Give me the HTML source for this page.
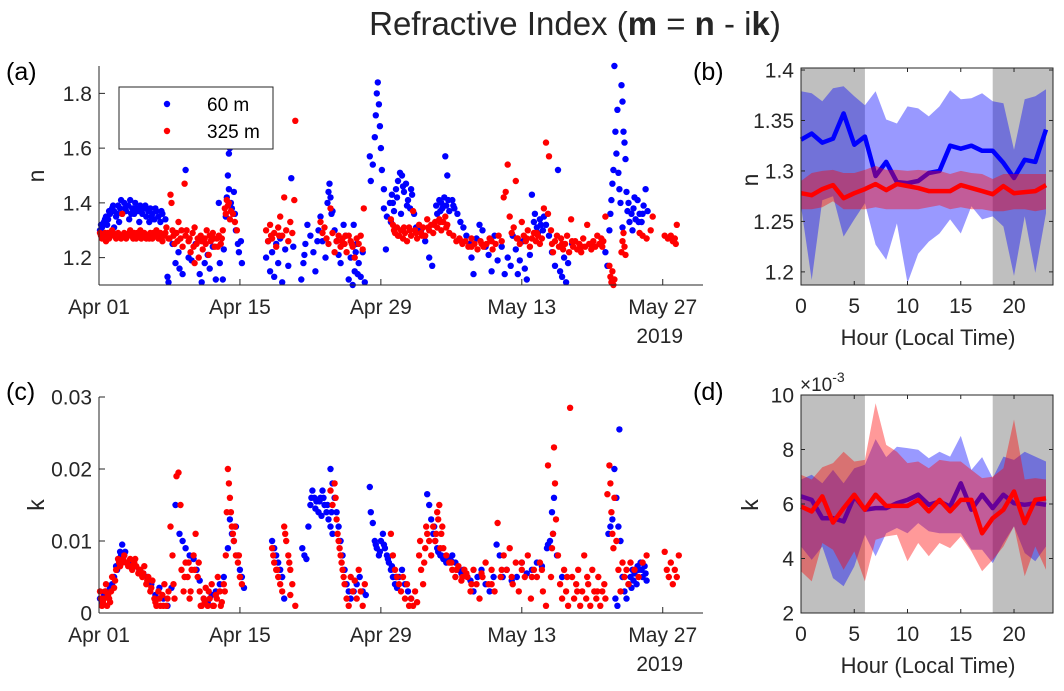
<!DOCTYPE html>
<html><head><meta charset="utf-8"><style>
body{margin:0;background:#fff;}
svg{display:block;font-family:"Liberation Sans",sans-serif;}
</style></head><body>
<svg id="fig" width="1064" height="691" viewBox="0 0 1064 691" xmlns="http://www.w3.org/2000/svg">
<text x="575" y="35" font-size="33" text-anchor="middle" fill="#262626">Refractive Index (<tspan font-weight="bold">m</tspan> = <tspan font-weight="bold">n</tspan> - i<tspan font-weight="bold">k</tspan>)</text>
<text x="6" y="80" font-size="25" fill="#000">(a)</text>
<text x="693" y="80" font-size="25" fill="#000">(b)</text>
<text x="6" y="400" font-size="25" fill="#000">(c)</text>
<text x="693" y="400" font-size="25" fill="#000">(d)</text>
</svg>
<script>
// ---------- Panel (a) data: n, 60 m ----------
const a60Day=[0.1,0.3,0.5,0.7,0.9,1.1,1.3,1.5,1.7,1.9,2.1,2.3,2.5,2.7,2.9,3.1,3.3,3.5,3.7,3.9,4.1,4.3,4.5,4.7,4.9,5.1,5.3,5.5,5.7,5.9,6.1,6.3,6.6,0.8,2.0,3.0,4.0,5.0,1.5,
6.8,6.9,7.3,7.6,7.9,8.0,8.3,8.6,8.9,9.2,9.6,10.0,10.2,10.5,10.8,11.0,11.3,11.6,11.9,12.0,12.3,
12.6,12.7,12.8,12.9,13.0,12.9,13.1,13.2,13.4,13.5,13.6,13.8,13.9,14.1,14.2,12.4,
16.6,16.8,17.0,17.2,17.4,17.6,17.8,18.0,18.2,18.5,18.8,19.1,19.3,
20.1,20.3,20.5,20.7,21.0,21.3,21.5,21.8,22.0,22.2,22.5,22.7,22.9,23.0,23.2,23.4,23.6,23.8,24.0,24.3,24.5,
24.8,25.0,25.2,25.4,25.6,25.8,26.0,26.2,26.4,25.3,
26.9,27.0,27.2,27.4,27.5,27.6,27.7,27.8,27.9,28.0,28.1,28.3,
28.3,28.6,28.9,29.1,29.3,29.5,29.7,29.9,30.1,30.3,30.5,30.7,30.9,31.1,31.3,29.0,30.0,28.5,31.5,
32.0,32.4,32.8,33.1,33.5,33.8,34.0,34.3,34.5,34.8,35.1,35.3,35.6,35.9,34.4,34.6,33.9,
36.2,36.5,36.8,37.0,37.2,37.5,37.8,38.1,38.4,38.7,39.0,39.3,39.6,40.0,40.3,40.6,40.9,41.1,
41.4,41.6,41.8,42.1,42.3,42.5,42.8,43.0,43.2,43.5,43.8,44.1,44.4,44.7,
45.0,45.3,45.6,45.8,46.0,46.2,46.4,46.6,47.0,
50.3,50.5,50.7,50.8,50.9,51.0,51.1,51.2,51.3,51.4,51.5,51.6,51.7,51.8,51.9,52.0,52.1,52.2,52.3,52.4,52.5,52.7,52.9,53.1,53.3,53.5,53.7,53.9,54.1,54.3,54.5,52.0,53.0,
0.2,0.6,1.0,1.4,1.8,2.2,2.6,3.2,3.6,4.2,4.6,5.2,5.6,6.2,29.2,29.6,30.2,30.6,31.0,33.6,34.1,34.7,35.2,43.3,43.6,43.9,44.2,52.6,53.2,53.6,54.0,22.8,23.1,25.5,25.7,20.4,21.7];
const a60N=[1.30,1.31,1.33,1.35,1.34,1.36,1.38,1.37,1.35,1.39,1.38,1.36,1.40,1.37,1.39,1.41,1.38,1.36,1.38,1.37,1.39,1.36,1.38,1.35,1.37,1.38,1.36,1.34,1.37,1.35,1.33,1.36,1.34,1.32,1.33,1.34,1.33,1.33,1.31,
1.13,1.11,1.25,1.18,1.22,1.16,1.14,1.52,1.20,1.19,1.25,1.14,1.11,1.18,1.21,1.16,1.24,1.12,1.40,1.18,1.12,
1.35,1.42,1.50,1.58,1.60,1.45,1.40,1.38,1.44,1.36,1.30,1.25,1.22,1.26,1.18,1.23,
1.20,1.26,1.15,1.22,1.13,1.25,1.18,1.27,1.11,1.23,1.17,1.49,1.24,
1.12,1.18,1.25,1.32,1.28,1.22,1.15,1.30,1.35,1.26,1.20,1.40,1.47,1.42,1.37,1.30,1.26,1.21,1.18,1.32,1.28,
1.12,1.20,1.10,1.15,1.25,1.18,1.13,1.22,1.11,1.32,
1.57,1.48,1.54,1.64,1.72,1.80,1.84,1.76,1.68,1.60,1.52,1.45,
1.38,1.35,1.40,1.43,1.37,1.45,1.48,1.51,1.50,1.44,1.47,1.41,1.38,1.43,1.36,1.33,1.36,1.23,1.31,
1.30,1.26,1.20,1.17,1.39,1.41,1.40,1.42,1.39,1.37,1.41,1.38,1.36,1.33,1.57,1.50,1.37,
1.31,1.28,1.25,1.20,1.14,1.27,1.32,1.30,1.24,1.21,1.15,1.28,1.19,1.24,1.14,1.20,1.17,1.28,
1.23,1.14,1.19,1.26,1.16,1.12,1.21,1.43,1.33,1.31,1.34,1.30,1.32,1.28,
1.22,1.17,1.52,1.15,1.13,1.20,1.11,1.18,1.25,
1.22,1.17,1.30,1.36,1.41,1.47,1.52,1.90,1.66,1.58,1.74,1.51,1.45,1.40,1.83,1.77,1.66,1.62,1.56,1.44,1.37,1.33,1.36,1.38,1.34,1.41,1.36,1.33,1.39,1.45,1.37,1.31,1.30,
1.32,1.34,1.37,1.39,1.36,1.41,1.38,1.36,1.40,1.37,1.39,1.35,1.38,1.37,1.40,1.42,1.46,1.39,1.45,1.36,1.38,1.41,1.39,1.36,1.29,1.32,1.35,1.40,1.42,1.33,1.36,1.44,1.36,1.22,1.14,1.21,1.26];
// ---------- Panel (a) data: n, 325 m ----------
const a325Day=[0.1,0.3,0.5,0.7,0.9,1.1,1.3,1.5,1.7,1.9,2.1,2.3,2.5,2.7,2.9,3.1,3.3,3.5,3.7,3.9,4.1,4.3,4.5,4.7,4.9,5.1,5.3,5.5,5.7,5.9,6.1,6.3,6.5,6.7,6.9,7.1,7.2,7.3,7.5,7.7,7.9,8.1,8.3,8.5,8.7,8.9,9.1,9.3,9.5,9.7,9.9,10.1,10.3,10.5,10.7,10.9,11.1,11.3,11.5,11.7,11.9,12.1,12.3,12.5,12.7,12.9,13.1,13.3,13.5,13.7,9.5,
16.6,16.8,17.0,17.2,17.4,17.6,17.8,18.0,18.2,18.4,18.6,18.8,19.0,19.2,19.5,19.4,
22.0,22.2,22.4,22.6,22.8,23.0,23.2,23.4,23.6,23.8,24.0,24.2,24.4,24.6,24.8,25.0,25.2,25.4,25.6,25.8,26.0,26.2,26.3,
29.0,29.2,29.4,29.6,29.8,30.0,30.2,30.4,30.6,30.8,31.0,31.2,31.4,31.6,31.8,32.0,32.2,32.4,32.6,32.8,33.0,33.2,33.4,33.6,33.8,34.0,34.2,34.4,34.6,34.8,
35.2,35.5,35.8,36.1,36.4,36.7,37.0,37.3,37.6,37.9,38.2,38.5,38.8,39.1,39.4,39.7,40.0,40.2,40.4,40.6,40.8,41.0,41.2,41.4,41.6,41.8,42.0,42.2,42.4,42.6,42.8,43.0,43.2,43.4,43.6,43.8,44.0,44.2,44.4,44.6,44.7,44.9,45.1,45.3,45.5,45.7,45.9,46.1,46.3,46.5,46.7,46.9,47.1,47.3,47.5,47.7,47.9,48.1,48.3,48.5,48.7,48.9,49.1,49.3,49.5,49.7,49.9,50.1,50.3,
50.7,50.8,50.9,51.0,51.1,51.2,51.9,52.0,52.1,52.2,52.3,53.7,54.0,54.4,54.8,55.0,56.2,56.5,56.8,57.0,57.2,57.4,57.3,
0.2,0.6,1.0,1.4,1.8,2.2,2.6,3.0,3.4,3.8,4.2,4.6,5.0,5.4,5.8,6.2,6.6,7.0,7.4,7.8,8.2,8.6,9.0,9.4,9.8,10.2,10.6,11.0,11.4,11.8,12.2,12.6,12.8,13.0,29.3,29.7,30.3,30.9,31.5,32.1,32.7,33.3,33.9,34.5,36.0,37.0,38.0,39.0,41.5,42.5,43.5,45.0,46.0,47.0,48.0,49.0,50.0,24.1,24.5,25.1,17.1,17.9];
const a325N=[1.29,1.27,1.28,1.26,1.29,1.28,1.30,1.28,1.27,1.29,1.28,1.36,1.29,1.27,1.28,1.30,1.28,1.29,1.27,1.28,1.30,1.28,1.29,1.27,1.28,1.29,1.27,1.28,1.30,1.27,1.29,1.26,1.28,1.31,1.27,1.43,1.40,1.30,1.25,1.29,1.33,1.27,1.24,1.47,1.30,1.26,1.22,1.29,1.31,1.25,1.20,1.28,1.23,1.27,1.30,1.21,1.26,1.29,1.24,1.27,1.28,1.25,1.30,1.38,1.41,1.40,1.37,1.36,1.33,1.30,1.18,
1.30,1.26,1.32,1.27,1.29,1.24,1.31,1.35,1.28,1.42,1.30,1.26,1.33,1.29,1.70,1.41,
1.33,1.29,1.31,1.27,1.25,1.38,1.29,1.22,1.26,1.28,1.24,1.27,1.25,1.22,1.28,1.26,1.24,1.20,1.27,1.25,1.28,1.23,1.38,
1.34,1.32,1.29,1.31,1.28,1.30,1.27,1.29,1.26,1.31,1.28,1.37,1.30,1.27,1.32,1.29,1.31,1.28,1.34,1.30,1.32,1.29,1.33,1.31,1.34,1.30,1.33,1.35,1.32,1.29,
1.28,1.26,1.27,1.25,1.26,1.24,1.27,1.25,1.23,1.26,1.24,1.25,1.27,1.23,1.25,1.28,1.26,1.42,1.44,1.54,1.35,1.29,1.31,1.48,1.27,1.25,1.33,1.28,1.26,1.30,1.24,1.27,1.29,1.26,1.28,1.25,1.27,1.38,1.62,1.36,1.57,1.30,1.22,1.26,1.28,1.24,1.27,1.23,1.25,1.28,1.22,1.34,1.24,1.26,1.23,1.25,1.22,1.27,1.24,1.32,1.25,1.23,1.26,1.24,1.28,1.25,1.27,1.26,1.35,
1.17,1.13,1.11,1.15,1.10,1.12,1.22,1.26,1.29,1.24,1.21,1.29,1.28,1.27,1.30,1.35,1.28,1.27,1.28,1.26,1.27,1.32,1.25,
1.28,1.29,1.27,1.29,1.28,1.27,1.28,1.29,1.27,1.29,1.27,1.28,1.27,1.29,1.28,1.28,1.29,1.27,1.28,1.26,1.30,1.28,1.27,1.24,1.27,1.26,1.25,1.28,1.27,1.24,1.27,1.36,1.39,1.34,1.30,1.28,1.31,1.30,1.29,1.28,1.31,1.32,1.33,1.31,1.26,1.24,1.25,1.26,1.27,1.27,1.29,1.25,1.25,1.26,1.24,1.25,1.24,1.26,1.28,1.25,1.28,1.28];
// ---------- Panel (c) data: k (x1e-3), 60 m ----------
const c60Day=[0.1,0.3,0.5,0.7,0.9,1.1,1.3,1.5,1.7,1.9,2.1,2.3,2.5,2.7,3.0,3.3,3.6,4.0,4.4,4.8,5.2,5.6,6.0,6.4,6.8,7.2,7.6,8.0,8.3,8.6,9.0,9.4,9.7,10.0,10.4,10.8,11.2,11.6,12.0,12.4,12.8,13.0,13.2,13.4,13.6,13.8,14.0,14.2,14.4,
17.2,17.4,17.6,17.8,18.0,18.2,18.4,
20.2,20.4,20.6,20.8,21.0,21.2,21.4,21.6,21.8,22.0,22.2,22.4,22.6,22.8,23.0,23.2,23.0,23.2,23.4,23.6,23.8,24.0,24.2,24.4,24.6,24.8,25.0,25.3,25.6,25.9,26.2,26.5,
26.9,27.0,27.2,27.4,27.6,27.8,28.0,28.2,28.4,28.6,28.8,29.0,29.2,29.4,29.6,29.8,30.1,30.4,30.7,31.0,
32.6,32.8,33.0,33.2,33.4,33.6,33.9,34.2,34.5,34.8,35.1,35.4,35.7,36.0,36.3,36.6,36.9,37.2,37.6,38.0,38.4,38.8,39.2,39.5,39.8,40.1,40.5,41.0,41.5,42.0,42.5,43.0,43.5,44.0,44.5,44.8,45.0,45.2,45.1,45.5,46.0,
50.6,50.8,51.0,51.2,51.4,51.6,51.7,51.8,52.0,52.2,52.4,52.6,52.8,53.0,53.2,53.4,53.6,53.8,54.0,54.2,54.4,51.3,51.5,
21.1,21.5,21.9,22.3,22.7,23.1,22.1,27.5,27.9,28.3,28.7,29.1,29.5,1.8,2.2,2.6,3.2,33.3,33.7,34.0,35.0,36.2,44.6,53.1,53.5,53.9,54.3,52.9];
const c60K=[2,1.5,2.5,3,2.2,3.5,4,5,6.5,7.5,8.5,9.5,8,7,6.5,7,6.5,6,5.5,5,4,2.5,3.5,2,1,3.5,15,11,10,9,8,7.5,6,4.5,2,1.5,2.5,3,4,5,9,13,11,10,12,8,6,5,3.5,
10,9,8,7,6,5,2,
9,8,7.5,12,15,17,16,15.5,14,16,17,15,14,13,12,11,20,18,16,14,12,10,8,6,4,3,2,3,4,5,3,2.5,
17.5,14,12.5,10,9,8,10,11,9,8,7,6,5,4,3.5,5,6,4,3,2,
16.5,15,13,11,10,9,8,7.5,7,7.5,8,7,6,5.5,5.5,5,4.5,3,5,6,4,3,5,9.5,8,5,6,4.5,5,7,5.5,6,7,6.5,9,10,14,16,11,8,5,
11,12,13,20,16,12,25.5,10,5,3,2,4,5,6,5.5,4,6,7,5,6.5,4.5,2,1,
16,14.5,15.5,16,15,14,13.5,9.5,8.5,9.5,7.5,6.5,5,6,8,8.5,7,12,8.5,8,7.2,6,9.5,4.5,6.5,6,5.5,3.5];
// ---------- Panel (c) data: k (x1e-3), 325 m ----------
const c325Day=[0.1,0.3,0.5,0.7,0.9,1.1,1.3,1.5,1.7,1.9,2.1,2.3,2.5,2.7,2.9,3.1,3.3,3.5,3.7,3.9,4.1,4.3,4.5,4.7,4.9,5.1,5.3,5.5,5.7,5.9,6.1,6.3,6.5,6.7,6.9,7.1,7.3,7.5,7.7,7.9,8.1,8.2,8.4,8.6,8.8,9.0,9.2,9.4,9.6,9.8,10.0,10.2,10.4,10.6,10.8,11.0,11.2,11.4,11.6,11.8,12.0,12.2,12.4,12.6,12.8,12.9,13.0,13.1,13.2,13.4,13.6,13.8,14.0,14.2,
17.2,17.4,17.6,17.8,18.0,18.2,18.4,18.6,18.8,19.0,19.2,19.5,19.0,
23.0,23.2,23.4,23.6,23.8,24.0,24.2,24.4,24.6,24.8,25.0,25.2,25.4,25.6,25.8,26.0,26.2,26.4,
29.0,29.2,29.4,29.6,29.8,30.0,30.2,30.4,30.6,30.8,31.0,31.2,31.4,31.6,31.8,32.0,32.2,32.4,32.6,32.8,33.0,33.2,33.4,33.6,33.8,34.0,34.2,34.5,34.8,35.1,35.4,35.7,36.0,36.3,36.6,36.9,37.2,37.5,37.8,38.1,38.4,38.7,39.0,39.3,39.6,39.9,40.2,40.5,40.8,41.1,41.4,41.7,42.0,42.3,42.6,42.9,43.2,43.5,43.8,44.1,44.4,44.6,44.9,45.1,45.2,45.3,45.4,45.6,45.8,46.0,46.2,46.4,46.6,46.8,47.0,47.2,47.4,47.6,47.8,48.0,48.2,48.4,48.6,48.8,49.0,49.2,49.4,49.6,49.8,50.0,50.2,50.5,50.7,50.8,50.9,51.0,51.1,51.2,51.4,51.6,51.8,52.0,52.2,52.4,52.6,52.8,53.2,53.6,54.0,54.4,56.2,56.4,56.6,56.8,57.0,57.2,57.4,57.6,
0.2,0.4,0.6,0.8,1.0,1.2,1.6,2.0,2.4,2.8,3.2,3.6,4.0,4.4,4.8,5.2,5.6,6.0,6.4,6.8,7.4,8.5,8.9,9.1,9.5,9.9,10.1,10.5,10.9,11.3,11.7,12.1,12.5,12.7,13.3,13.5,13.9,17.3,17.7,18.5,18.9,23.5,23.7,23.9,24.1,24.3,31.9,32.3,32.5,33.5,33.7,33.9,34.1,35.0,35.5,36.1,36.5,37.0,38.0,39.0,40.0,41.0,42.0,43.0,44.0,45.0,46.5,47.5,48.5,49.5,50.3];
const c325K=[3,1,2,4,2.5,1.5,5,3.5,6,7.5,6.5,7,8,7,6.5,7.5,6,7,6.5,5.5,6,5,6.5,4,5,3,4.5,2,1,3,1,2.5,4,1,3,12,8,2,19,19.5,15,6,3,7,5,2,6,8,11,5,3,1,2,3.5,1,2,4,1,2.5,5,3,1.5,4,8,20,18,16,14,12,10,8,7,5,4,
9,7,6,5,4,3,12,10,8,6,4,1,2.5,
17,15,18,13,10,8,6,4,2,1,5,3,4.5,2,6,3,1,4,
11,8,6,5,4,3,5,2,4,1,2,1,3,1.5,8,6,4,9,11,10,8,12,10,14,15,11,9,8,7,6,5,6.5,4.5,6,5,3,6,4,2,5,7,4,6,3,12.5,5,8,6,9,4,7,3,6,5,8,2,6,5,7,3,1,20.5,5,11,23,18,13,8,4,2,6,3,1,28.5,5,2,4,6,1,3,8,2,4,1,6,3,2,5,1,3,4,16.5,20.5,18,14,11,9,16,10,6,3,7,5,6,4,7,6,5,7,8,8.5,6,5,7,4,6,5,8,
2,1.5,3,1,2,3,4.5,7,7.5,7,6.5,7.5,6,5.5,4.5,3.5,1.5,2,1,2,4,5,7,3,6,7,1,1.5,3,1,2,1,3,14,11,12,8,8,6,11,7,16,11,9,7,5,10,7,12,11,13,9,12,7,6,5,5.5,4,5.5,4,6,5,7,5,6,9,5,3,5,3,2];
// ---------- Panel (b) data: hourly n ----------
const hours=[0,1,2,3,4,5,6,7,8,9,10,11,12,13,14,15,16,17,18,19,20,21,22,23];
const b60Mean=[1.331,1.337,1.328,1.332,1.357,1.326,1.334,1.295,1.309,1.289,1.288,1.290,1.298,1.300,1.325,1.322,1.325,1.320,1.320,1.308,1.293,1.311,1.309,1.341];
const b60Upper=[1.379,1.377,1.369,1.382,1.384,1.374,1.365,1.379,1.351,1.347,1.364,1.362,1.354,1.364,1.380,1.371,1.372,1.377,1.369,1.367,1.321,1.371,1.374,1.381];
const b60Lower=[1.265,1.192,1.271,1.275,1.235,1.252,1.268,1.227,1.212,1.248,1.189,1.218,1.230,1.238,1.252,1.238,1.265,1.252,1.255,1.245,1.196,1.255,1.199,1.258];
const b325Mean=[1.278,1.276,1.282,1.286,1.273,1.278,1.282,1.287,1.281,1.287,1.285,1.283,1.280,1.280,1.280,1.286,1.283,1.280,1.277,1.285,1.278,1.279,1.280,1.286];
const b325Upper=[1.290,1.298,1.300,1.301,1.298,1.298,1.301,1.305,1.301,1.301,1.300,1.301,1.300,1.300,1.297,1.300,1.298,1.297,1.292,1.297,1.297,1.297,1.297,1.297];
const b325Lower=[1.262,1.262,1.264,1.270,1.262,1.262,1.262,1.264,1.262,1.262,1.262,1.262,1.264,1.266,1.262,1.264,1.262,1.262,1.260,1.260,1.262,1.262,1.260,1.262];
// ---------- Panel (d) data: hourly k (x1e-3) ----------
const d60Mean=[6.28,6.15,5.48,5.48,5.36,6.28,5.79,5.85,5.85,6.03,6.15,6.34,5.97,6.09,5.91,6.76,5.79,6.34,5.85,6.34,6.03,5.97,6.03,5.97];
const d60Upper=[6.9,7.07,6.76,7.25,6.76,7.31,7.44,8.38,7.72,8.1,8.05,7.99,7.68,7.92,7.74,8.5,7.25,7.72,6.95,7.74,7.62,7.92,7.74,7.56];
const d60Lower=[4.44,3.95,4.44,3.28,2.98,3.71,4.87,4.08,4.93,5.12,4.93,5.3,5.0,4.93,4.93,4.93,4.32,4.32,3.83,4.57,5.18,4.2,3.9,4.44];
const d325Mean=[5.91,5.73,6.28,5.32,5.85,6.34,5.79,6.34,5.93,5.93,5.93,6.15,5.73,6.15,5.73,6.15,6.15,4.93,5.48,5.79,6.46,5.3,6.15,6.21];
const d325Upper=[7.07,6.9,7.35,7.5,7.92,7.56,7.62,9.7,8.17,7.92,7.5,7.56,7.31,7.62,7.56,7.56,7.25,6.95,7.0,7.31,9.1,6.9,6.95,6.9];
const d325Lower=[3.53,3.16,4.57,4.32,3.59,4.26,3.16,4.69,4.81,4.87,3.9,4.57,4.08,4.57,4.38,4.81,4.26,3.53,3.95,4.44,5.18,3.35,4.44,3.59];
const dateTicks=[0,14,28,42,56];
const dateLabels=["Apr 01","Apr 15","Apr 29","May 13","May 27"];
const aTicks=[1.2,1.4,1.6,1.8];
const bTicks=[1.2,1.25,1.3,1.35,1.4];
const cTicks=[0,10,20,30];
const dTicks=[2,4,6,8,10];
const hourTicks=[0,5,10,15,20];

const svg=document.getElementById('fig');
const NS='http://www.w3.org/2000/svg';
function mk(tag,attrs,parent){const e=document.createElementNS(NS,tag);for(const k in attrs)e.setAttribute(k,attrs[k]);(parent||svg).appendChild(e);return e;}
function lin(d0,d1,r0,r1){return v=>r0+(v-d0)/(d1-d0)*(r1-r0);}

const X0=99,X1=703;
const xDate=lin(0,60,X0,X1);
const yA=lin(1.1,1.9,285,66);
const yC=lin(0,30,613,397);
const xHour=lin(0,23.66,801,1053);
const yB=lin(1.187,1.402,285,68);
const yD=lin(2,10,613,395);
const AX='#262626';
const FS=21;

function scatter(days,vals,xs,ys,color,name){
  const g=mk('g',{});
  
  
  for(let i=0;i<days.length;i++){
    const c=mk('circle',{cx:xs(days[i]).toFixed(1),cy:ys(vals[i]).toFixed(1),r:3.2,fill:color},g);
    
    
  }
}
function dateAxes(ys,ticks,fmt,top,bottom,prefix){
  const g=mk('g',{});
  
  
  mk('line',{x1:X0,y1:top,x2:X0,y2:bottom,stroke:AX,'stroke-width':1},g);
  mk('line',{x1:X0,y1:bottom,x2:X1,y2:bottom,stroke:AX,'stroke-width':1},g);
  dateTicks.forEach((d,i)=>{
    const x=xDate(d);
    mk('line',{x1:x,y1:bottom,x2:x,y2:bottom-6,stroke:AX},g);
    const t=mk('text',{x:x,y:bottom+29,'font-size':FS,'text-anchor':'middle',fill:AX},g);
    t.textContent=dateLabels[i];
    
    
  });
  const yr=mk('text',{x:xDate(56)-3,y:bottom+58,'font-size':FS,'text-anchor':'middle',fill:AX},g);
  yr.textContent='2019';
  
  
  ticks.forEach(v=>{
    const y=ys(v);
    mk('line',{x1:X0,y1:y,x2:X0+6,y2:y,stroke:AX},g);
    const t=mk('text',{x:92,y:y+7.5,'font-size':FS,'text-anchor':'end',fill:AX},g);
    t.textContent=fmt(v);
    
    
  });
}
function hourPanel(ys,ticks,fmt,top,bottom,m60,u60,l60,m325,u325,l325,prefix){
  const g=mk('g',{});
  
  
  const n1=mk('rect',{x:xHour(0),y:top,width:xHour(6)-xHour(0),height:bottom-top,fill:'#bfbfbf'},g);
  
  
  const n2=mk('rect',{x:xHour(18),y:top,width:xHour(23.66)-xHour(18),height:bottom-top,fill:'#bfbfbf'},g);
  
  
  function band(u,l,color,name){
    let pts=hours.map((h,i)=>xHour(h).toFixed(1)+','+ys(u[i]).toFixed(1));
    for(let i=hours.length-1;i>=0;i--)pts.push(xHour(hours[i]).toFixed(1)+','+ys(l[i]).toFixed(1));
    const p=mk('polygon',{points:pts.join(' '),fill:color,'fill-opacity':0.4},g);
    
    
  }
  function line(m,color,name){
    const p=mk('polyline',{points:hours.map((h,i)=>xHour(h).toFixed(1)+','+ys(m[i]).toFixed(1)).join(' '),fill:'none',stroke:color,'stroke-width':4.5,'stroke-linejoin':'round'},g);
    
    
  }
  band(u60,l60,'#0000ff','band-60m');
  line(m60,'#0000ff','mean-line-60m');
  band(u325,l325,'#ff0000','band-325m');
  line(m325,'#ff0000','mean-line-325m');
  mk('rect',{x:801,y:top,width:252,height:bottom-top,fill:'none',stroke:AX,'stroke-width':1},g);
  hourTicks.forEach(h=>{
    const x=xHour(h);
    mk('line',{x1:x,y1:bottom,x2:x,y2:bottom-4,stroke:AX},g);
    mk('line',{x1:x,y1:top,x2:x,y2:top+4,stroke:AX},g);
    const t=mk('text',{x:x,y:bottom+28,'font-size':FS,'text-anchor':'middle',fill:AX},g);
    t.textContent=h;
    
    
  });
  ticks.forEach(v=>{
    const y=ys(v);
    mk('line',{x1:801,y1:y,x2:805,y2:y,stroke:AX},g);
    mk('line',{x1:1053,y1:y,x2:1049,y2:y,stroke:AX},g);
    const t=mk('text',{x:794,y:y+7.5,'font-size':FS,'text-anchor':'end',fill:AX},g);
    t.textContent=fmt(v);
    
    
  });
  const xl=mk('text',{x:928,y:bottom+60,'font-size':22,'text-anchor':'middle',fill:AX},g);
  xl.textContent='Hour (Local Time)';
  
  
}

scatter(a60Day,a60N,xDate,yA,'#0000ff','scatter-n-60m');
scatter(a325Day,a325N,xDate,yA,'#ff0000','scatter-n-325m');
dateAxes(yA,aTicks,v=>v.toFixed(1),66,285,'panel-a');
scatter(c60Day,c60K,xDate,yC,'#0000ff','scatter-k-60m');
scatter(c325Day,c325K,xDate,yC,'#ff0000','scatter-k-325m');
dateAxes(yC,cTicks,v=>v===0?'0':(v/1000).toFixed(2),397,613,'panel-c');
hourPanel(yB,bTicks,v=>String(+v.toFixed(2)),68,285,b60Mean,b60Upper,b60Lower,b325Mean,b325Upper,b325Lower,'panel-b');
hourPanel(yD,dTicks,v=>String(v),395,613,d60Mean,d60Upper,d60Lower,d325Mean,d325Upper,d325Lower,'panel-d');

[['n',44,176,'y-axis-title-a'],['k',44,505,'y-axis-title-c'],['n',758,180,'y-axis-title-b'],['k',758,505,'y-axis-title-d']].forEach(a=>{
  const t=mk('text',{x:a[1],y:a[2],'font-size':23,'text-anchor':'middle',fill:AX,transform:'rotate(-90 '+a[1]+' '+a[2]+')'});
  t.textContent=a[0];
  
  
});
const ex=mk('text',{x:800,y:391,'font-size':19,fill:AX});
ex.innerHTML='×10<tspan dy="-9" font-size="14">-3</tspan>';



const lg=mk('g',{});


mk('rect',{x:119,y:87,width:154,height:62,fill:'#fff',stroke:AX,'stroke-width':1},lg);
const le1=mk('circle',{cx:167,cy:104,r:3.2,fill:'#0000ff'},lg);


const lt1=mk('text',{x:207,y:111,'font-size':19,fill:'#000'},lg);
lt1.textContent='60 m';


const le2=mk('circle',{cx:167,cy:131,r:3.2,fill:'#ff0000'},lg);


const lt2=mk('text',{x:207,y:138,'font-size':19,fill:'#000'},lg);
lt2.textContent='325 m';


</script>
</body></html>
